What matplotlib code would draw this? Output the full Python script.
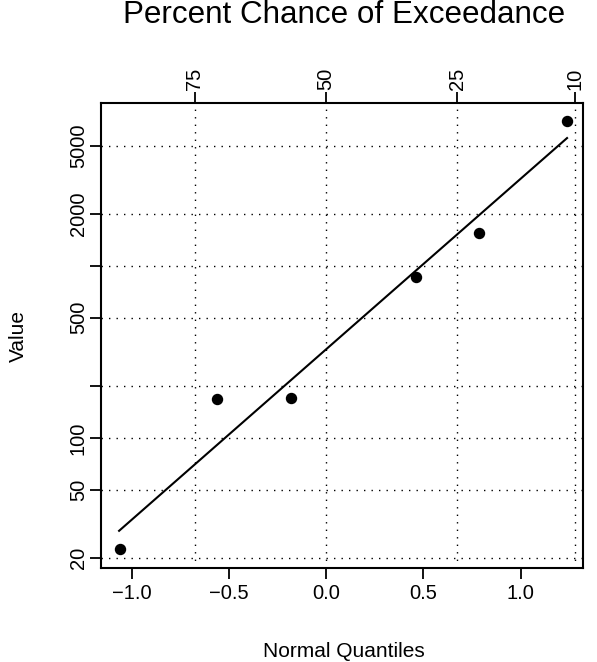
import matplotlib
matplotlib.use("Agg")
import matplotlib.pyplot as plt
import numpy as np
from statistics import NormalDist
from matplotlib.ticker import FixedLocator, NullLocator, NullFormatter

plt.rcParams['font.family'] = ['Liberation Sans', 'DejaVu Sans']

# data
quantiles = [-1.059, -0.560, -0.180, 0.463, 0.787, 1.239]
values = [22.6, 169, 171, 863, 1556, 6970]
fit_q = [-1.064, 1.239]
fit_v = [28.8, 5546]
x_ticks = [-1.0, -0.5, 0.0, 0.5, 1.0]
x_tick_labels = ["\u22121.0", "\u22120.5", "0.0", "0.5", "1.0"]
y_ticks = [20, 50, 100, 200, 500, 1000, 2000, 5000]
y_tick_labels = ["20", "50", "100", "", "500", "", "2000", "5000"]
pct_exceed = [75, 50, 25, 10]
pct_labels = ["75", "50", "25", "10"]

pct_pos = [NormalDist().inv_cdf(1 - p / 100.0) for p in pct_exceed]

W, H = 597, 662
fig = plt.figure(figsize=(W / 100, H / 100), dpi=100)
ax = fig.add_axes([101 / W, 1 - 568 / H, (583 - 101) / W, (568 - 103) / H])
ax.set_yscale('log')
ax.set_xlim(-1.157, 1.321)
ax.set_ylim(17.5, 8870)

# grid
for y in y_ticks:
    ax.axhline(y, color='black', lw=1.0, ls=(0, (1, 4.4)), zorder=1)
for x in pct_pos:
    ax.axvline(x, color='black', lw=1.0, ls=(0, (1, 4.4)), zorder=1)

ax.plot(fit_q, fit_v, color='black', lw=1.5, zorder=2)
ax.plot(quantiles, values, 'o', color='black', ms=7.2, zorder=3)

ax.yaxis.set_major_locator(FixedLocator(y_ticks))
ax.yaxis.set_minor_locator(NullLocator())
ax.yaxis.set_minor_formatter(NullFormatter())
ax.set_yticklabels(y_tick_labels, rotation=90, va='center')
ax.set_xticks(x_ticks)
ax.set_xticklabels(x_tick_labels)

for s in ax.spines.values():
    s.set_linewidth(1.5)

ax.tick_params(axis='x', which='major', direction='out', length=8, width=1.3,
               labelsize=14.5, pad=3.5)
ax.tick_params(axis='y', which='major', direction='out', length=8, width=1.3,
               labelsize=14.5, pad=1.5)

top = ax.twiny()
top.set_xlim(ax.get_xlim())
top.set_xticks(pct_pos)
top.set_xticklabels(pct_labels, rotation=90, va='bottom')
top.tick_params(axis='x', direction='out', length=8, width=1.3, labelsize=14.5, pad=1.0)
for s in top.spines.values():
    s.set_visible(False)

fig.text(344 / W, 1 - 657 / H, "Normal Quantiles", ha='center', va='baseline', fontsize=15)
fig.text(18.5 / W, 1 - 336 / H, "Value", ha='center', va='center', rotation=90, fontsize=15)
fig.text(344 / W, 1 - 23 / H, "Percent Chance of Exceedance", ha='center', va='baseline',
         fontsize=22.6)

fig.savefig("out.png", dpi=100)
